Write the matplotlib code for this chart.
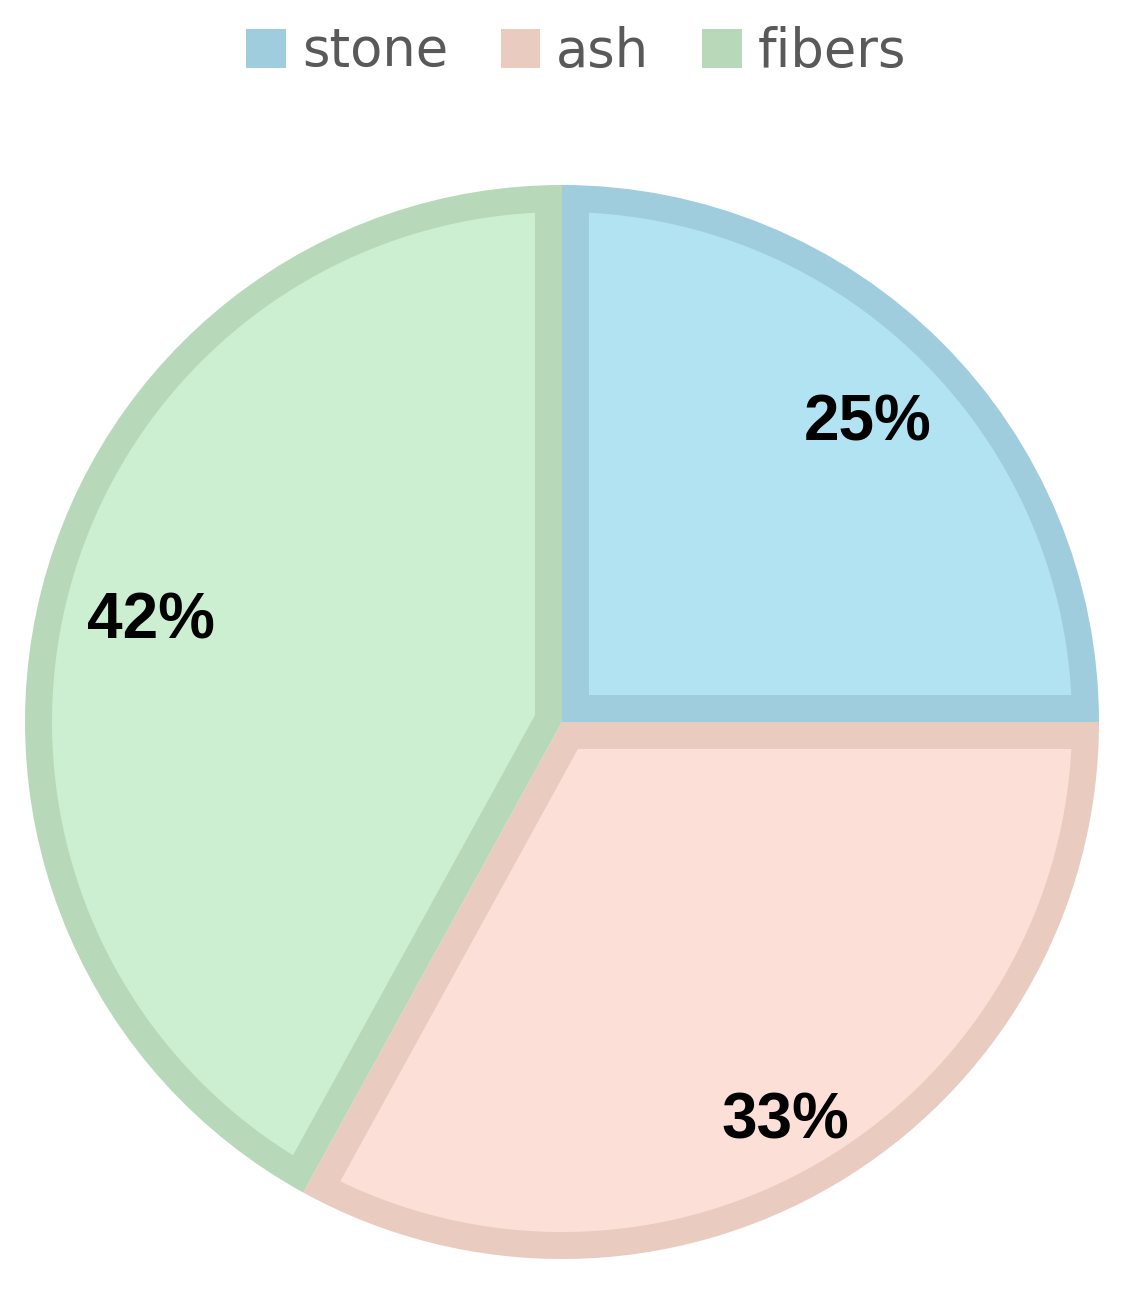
import numpy as np
import matplotlib.pyplot as plt
from matplotlib.patches import Patch

# data
labels = ['stone', 'ash', 'fibers']
values = [25, 33, 42]
fill_colors = ['#B1E3F2', '#FCE0D7', '#CDEFD1']
edge_colors = ['#9FCDDD', '#EACBC0', '#B7D9B9']
label_dist = [0.80, 0.845, 0.79]
label_nudge = [(2, 0), (-8, -4), (0, 0)]  # px

W, H = 1123, 1289
fig = plt.figure(figsize=(W / 100, H / 100), dpi=100)
ax = fig.add_axes([0, 0, 1, 1])

cx, cy, R = 562, H - 722, 537
border = 27  # px, drawn inside each slice

# outer pie in the border colour
wedges, _, autotexts = ax.pie(
    values, colors=edge_colors, startangle=90, counterclock=False,
    center=(cx, cy), radius=R, autopct='%1.0f%%',
    wedgeprops=dict(linewidth=0),
    textprops=dict(family='Liberation Sans', fontweight='bold', fontsize=46, color='black'),
)

# lighter inner part of every slice, inset by the border width
for w, fc in zip(wedges, fill_colors):
    t1, t2 = np.deg2rad(w.theta1), np.deg2rad(w.theta2)
    half = (t2 - t1) / 2
    mid = t1 + half
    shift = border / np.sin(half)
    ax0 = cx + shift * np.cos(mid)
    ay0 = cy + shift * np.sin(mid)
    da = np.arcsin(border / (R - border))
    ang = np.linspace(t1 + da, t2 - da, 200)
    xs = np.concatenate([[ax0], cx + (R - border) * np.cos(ang)])
    ys = np.concatenate([[ay0], cy + (R - border) * np.sin(ang)])
    ax.fill(xs, ys, color=fc, linewidth=0, zorder=1.5)

# percentage labels where the original has them
for w, t, d, (nx, ny) in zip(wedges, autotexts, label_dist, label_nudge):
    a = np.deg2rad((w.theta1 + w.theta2) / 2)
    t.set_position((cx + d * R * np.cos(a) + nx, cy + d * R * np.sin(a) - 5 + ny))
    t.set_zorder(3)

ax.set_xlim(0, W)
ax.set_ylim(0, H)
ax.set_aspect('auto')
ax.axis('off')

handles = [Patch(facecolor=c, edgecolor='none') for c in edge_colors]
ax.legend(handles, labels, loc='upper center', bbox_to_anchor=(0.513, 1.017), ncol=3,
          frameon=False, prop=dict(family='DejaVu Sans', size=38), labelcolor='#595959',
          handlelength=0.75, handleheight=0.75, handletextpad=0.3, columnspacing=1.0)

fig.savefig('out.png', dpi=100)
